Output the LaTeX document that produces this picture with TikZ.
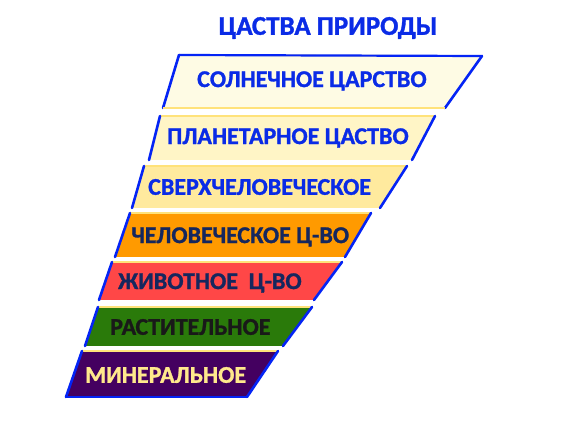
\documentclass[tikz,border=0pt]{standalone}
\usepackage{fontspec}
\setmainfont{Carlito}[BoldFeatures={FakeBold=1.2}]
\definecolor{bl}{HTML}{0424F5}
\definecolor{tblue}{HTML}{0A2BE6}
\definecolor{navy}{HTML}{15275E}
\definecolor{cA}{HTML}{FEFBE4}
\definecolor{cB}{HTML}{FFF5C6}
\definecolor{cC}{HTML}{FFEA9E}
\definecolor{cD}{HTML}{FF9A00}
\definecolor{cE}{HTML}{FF4747}
\definecolor{cF}{HTML}{2A7A0A}
\definecolor{cG}{HTML}{440060}
\definecolor{ylw}{HTML}{FFE27A}
\definecolor{ltxt}{HTML}{FFE88C}
\tikzset{
  edgeline/.style={draw=bl,line width=2.6pt,line cap=round},
  topline/.style={draw=ylw,line width=1.4pt},
  lbl/.style={anchor=west,inner sep=0pt,font=\fontsize{24}{26}\selectfont\bfseries},
  ttl/.style={inner sep=0pt,font=\fontsize{27}{29}\selectfont\bfseries,text=tblue}
}
\begin{document}
\begin{tikzpicture}[x=1pt,y=-1pt]
\useasboundingbox (0,0) rectangle (571,422);
\fill[white] (0,0) rectangle (571,422);
\coordinate (a1) at (179,55); \coordinate (b1) at (482,56); \coordinate (c1) at (445,108); \coordinate (d1) at (163,108);
\coordinate (a2) at (160,116); \coordinate (b2) at (435,116); \coordinate (c2) at (412,160); \coordinate (d2) at (149,160);
\coordinate (a3) at (144,166); \coordinate (b3) at (407,166); \coordinate (c3) at (380,208); \coordinate (d3) at (132,208);
\coordinate (a4) at (130,213); \coordinate (b4) at (371,213); \coordinate (c4) at (345,257); \coordinate (d4) at (115,257);
\coordinate (a5) at (112,262); \coordinate (b5) at (342,262); \coordinate (c5) at (314,300); \coordinate (d5) at (99,300);
\coordinate (a6) at (98,307); \coordinate (b6) at (312,307); \coordinate (c6) at (283,346); \coordinate (d6) at (85,346);
\coordinate (a7) at (82,351); \coordinate (b7) at (278,351); \coordinate (c7) at (247,397); \coordinate (d7) at (66,397);
\foreach \i/\c in {1/cA,2/cB,3/cC,4/cD,5/cE,6/cF,7/cG}{
  \fill[\c] (a\i) -- (b\i) -- (c\i) -- (d\i) -- cycle;
  \draw[topline] (a\i) -- (b\i);
  \draw[edgeline] (a\i) -- (d\i);
  \draw[edgeline] (b\i) -- (c\i);
}
\draw[edgeline,line width=2.2pt] (a1) -- (b1);
\draw[topline] (d1) -- (c1);
\draw[edgeline] (d7) -- (c7);
\node[ttl] (title) at (328,28) {ЦАСТВА ПРИРОДЫ};
\node[lbl,text=tblue] (t1) at (197,81) {СОЛНЕЧНОЕ ЦАРСТВО};
\node[lbl,text=tblue] (t2) at (167,138) {ПЛАНЕТАРНОЕ ЦАСТВО};
\node[lbl,text=tblue] (t3) at (148,187) {СВЕРХЧЕЛОВЕЧЕСКОЕ};
\node[lbl,text=navy] (t4) at (131,237) {ЧЕЛОВЕЧЕСКОЕ Ц-ВО};
\node[lbl,text=navy] (t5) at (118,283) {ЖИВОТНОЕ\ \ Ц-ВО};
\node[lbl,text=black!90] (t6) at (110,327) {РАСТИТЕЛЬНОЕ};
\node[lbl,text=ltxt] (t7) at (85,375) {МИНЕРАЛЬНОЕ};
\end{tikzpicture}
\end{document}
